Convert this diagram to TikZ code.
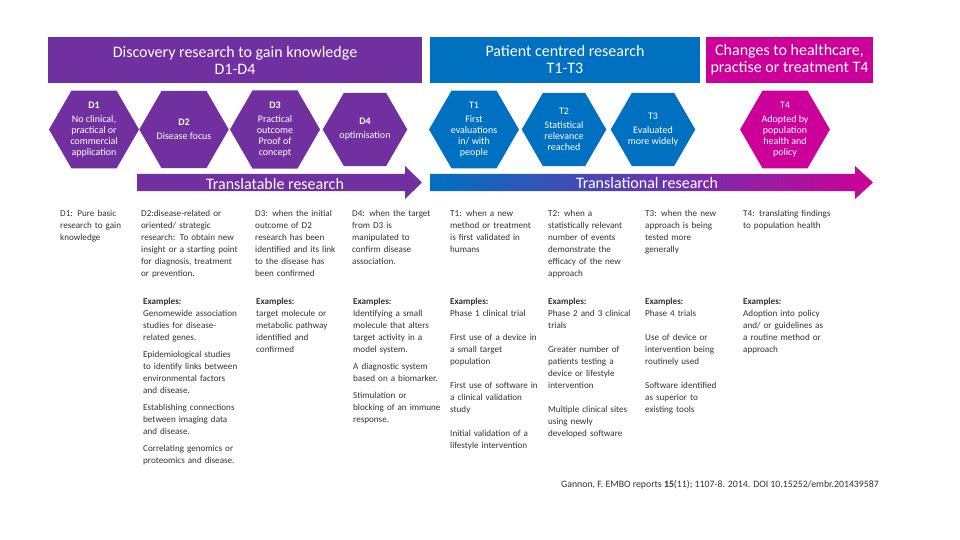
\documentclass[tikz,border=0pt]{standalone}
\usepackage{fontspec}
\setmainfont{Carlito}
\usetikzlibrary{shapes.geometric}
\definecolor{discpurple}{HTML}{7030A0}
\definecolor{patblue}{HTML}{0070C0}
\definecolor{healthmag}{HTML}{CC0099}
\tikzset{
  header/.style={fill=#1, text=white, minimum height=46pt, align=center, inner sep=0pt,
    font=\fontsize{16}{17}\selectfont},
  hexa/.style={regular polygon, regular polygon sides=6, minimum size=84.5pt, inner sep=0pt,
    fill=#1, text=white, align=center, font=\fontsize{10}{11}\selectfont},
  banner/.style={text=white, inner sep=0pt, font=\fontsize{16}{18}\selectfont},
  desc/.style={anchor=base west, inner sep=0pt, text width=125pt, align=left,
    text=black!80, font=\fontsize{9.1}{12}\selectfont},
}

\begin{document}
\begin{tikzpicture}[x=1pt,y=-1pt]
\useasboundingbox[fill=white] (0,0) rectangle (960,540);
% headers
\node[header=discpurple, minimum width=374pt] (disc) at (235,60) {Discovery research to gain knowledge\\D1-D4};
\node[header=patblue, minimum width=270pt] (pat) at (565,60) {Patient centred research\\T1-T3};
\node[header=healthmag, minimum width=167pt] (health) at (789.5,60) {Changes to healthcare,\\practise or treatment T4};
% hexagons
\node[hexa=discpurple] (d1) at (94,129.5) {\textbf{D1}\\[3pt]No clinical,\\practical or\\commercial\\application};
\node[hexa=discpurple] (d2) at (184,129.5) {\textbf{D2}\\[3pt]Disease focus};
\node[hexa=discpurple] (d3) at (275,129.5) {\textbf{D3}\\[3pt]Practical\\outcome\\Proof of\\concept};
\node[hexa=discpurple] (d4) at (365,129.5) {\textbf{D4}\\[3pt]optimisation};
\node[hexa=patblue] (t1) at (474,129.5) {T1\\[3pt]First\\evaluations\\in/ with\\people};
\node[hexa=patblue] (t2) at (564,129.5) {T2\\[3pt]Statistical\\relevance\\reached};
\node[hexa=patblue] (t3) at (653,129.5) {T3\\[3pt]Evaluated\\more widely};
\node[hexa=healthmag] (t4) at (785,129.5) {T4\\[3pt]Adopted by\\population\\health and\\policy};
% arrows
\fill[discpurple] (137,174) -- (405,174) -- (405,166) -- (422,182.5) -- (405,199) -- (405,191) -- (137,191) -- cycle;
\path[left color=patblue, right color=healthmag] (430,174) -- (855,174) -- (855,166) -- (873,182.5) -- (855,199) -- (855,191) -- (430,191) -- cycle;
\node[banner] (translatable) at (275,184) {Translatable research};
\node[banner] (translational) at (647,183) {Translational research};
% definitions
\node[desc] (d1def) at (60,216.5) {D1: Pure basic\\research to gain\\knowledge};
\node[desc] (d2def) at (141,216.5) {D2:disease-related or\\oriented/ strategic\\research: To obtain new\\insight or a starting point\\for diagnosis, treatment\\or prevention.};
\node[desc] (d3def) at (255,216.5) {D3: when the initial\\outcome of D2\\research has been\\identified and its link\\to the disease has\\been confirmed};
\node[desc] (d4def) at (352,216.5) {D4: when the target\\from D3 is\\manipulated to\\confirm disease\\association.};
\node[desc] (t1def) at (450,216.5) {T1: when a new\\method or treatment\\is first validated  in\\humans};
\node[desc] (t2def) at (548,216.5) {T2: when a\\statistically relevant\\number of events\\demonstrate the\\efficacy of the new\\approach};
\node[desc] (t3def) at (645,216.5) {T3: when the new\\approach is being\\tested more\\generally};
\node[desc] (t4def) at (743,216.5) {T4: translating findings\\to population health};
% examples
\node[desc] (d2ex) at (143,304.5) {\textbf{Examples:}\\Genomewide association\\studies for disease-\\related genes.\\[5pt]Epidemiological studies\\to identify links between\\environmental factors\\and disease.\\[5pt]Establishing connections\\between imaging data\\and disease.\\[5pt]Correlating genomics or\\proteomics and disease.};
\node[desc] (d3ex) at (256,304.5) {\textbf{Examples:}\\target molecule or\\metabolic pathway\\identified and\\confirmed};
\node[desc] (d4ex) at (353,304.5) {\textbf{Examples:}\\Identifying a small\\molecule that alters\\target activity in a\\model system.\\[5pt]A diagnostic system\\based on a biomarker.\\[5pt]Stimulation or\\blocking of an immune\\response.};
\node[desc] (t1ex) at (450,304.5) {\textbf{Examples:}\\Phase 1 clinical trial\\[12pt]First use of a device in\\a small target\\population\\[12pt]First use of software in\\a clinical validation\\study\\[12pt]Initial validation of a\\lifestyle intervention};
\node[desc] (t2ex) at (548,304.5) {\textbf{Examples:}\\Phase 2 and 3 clinical\\trials\\[12pt]Greater number of\\patients  testing a\\device or lifestyle\\intervention\\[12pt]Multiple clinical sites\\using newly\\developed software};
\node[desc] (t3ex) at (645,304.5) {\textbf{Examples:}\\Phase 4 trials\\[12pt]Use of device or\\intervention being\\routinely used\\[12pt]Software identified\\as superior to\\existing  tools};
\node[desc] (t4ex) at (743,304.5) {\textbf{Examples:}\\Adoption into policy\\and/ or guidelines as\\a routine method or\\approach};
% source
\node[anchor=base west, inner sep=0pt, text=black!80, font=\fontsize{9.8}{11}\selectfont] (source) at (561,487.5) {Gannon, F. EMBO reports \textbf{15}(11); 1107-8. 2014. DOI 10.15252/embr.201439587};
\end{tikzpicture}
\end{document}
